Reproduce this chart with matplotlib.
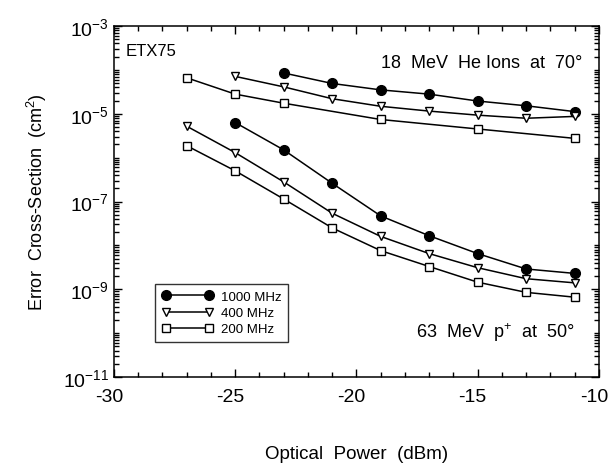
import matplotlib
matplotlib.use("Agg")
import matplotlib.pyplot as plt
from matplotlib.ticker import FixedLocator, LogFormatterSciNotation, MultipleLocator
from matplotlib.transforms import ScaledTranslation
import numpy as np

plt.rcParams['font.family'] = ['Liberation Sans', 'DejaVu Sans']
plt.rcParams['mathtext.fontset'] = 'custom'
plt.rcParams['mathtext.rm'] = 'Liberation Sans'
plt.rcParams['mathtext.it'] = 'Liberation Sans:italic'
plt.rcParams['mathtext.bf'] = 'Liberation Sans:bold'
plt.rcParams['axes.unicode_minus'] = False

# He ions, 18 MeV at 70 deg
he_1000_x = [-23, -21, -19, -17, -15, -13, -11]
he_1000_y = [8.5e-5, 4.9e-5, 3.5e-5, 2.8e-5, 1.95e-5, 1.52e-5, 1.12e-5]
he_400_x = [-25, -23, -21, -19, -17, -15, -13, -11]
he_400_y = [7.1e-5, 4.1e-5, 2.2e-5, 1.48e-5, 1.15e-5, 9.3e-6, 7.9e-6, 8.7e-6]
he_200_x = [-27, -25, -23, -19, -15, -11]
he_200_y = [6.6e-5, 2.8e-5, 1.74e-5, 7.4e-6, 4.5e-6, 2.75e-6]

# Protons, 63 MeV at 50 deg
p_1000_x = [-25, -23, -21, -19, -17, -15, -13, -11]
p_1000_y = [6.3e-6, 1.5e-6, 2.6e-7, 4.7e-8, 1.66e-8, 6.5e-9, 2.9e-9, 2.3e-9]
p_400_x = [-27, -25, -23, -21, -19, -17, -15, -13, -11]
p_400_y = [5.2e-6, 1.3e-6, 2.8e-7, 5.4e-8, 1.6e-8, 6.5e-9, 3.1e-9, 1.74e-9, 1.4e-9]
p_200_x = [-27, -25, -23, -21, -19, -17, -15, -13, -11]
p_200_y = [1.87e-6, 5.0e-7, 1.14e-7, 2.5e-8, 7.6e-9, 3.3e-9, 1.45e-9, 8.5e-10, 6.6e-10]

labels = ['1000 MHz', '400 MHz', '200 MHz']

fig = plt.figure(figsize=(6.08, 4.64), dpi=100)
ax = fig.add_axes([0.1875, 0.1853, 0.7975, 0.7565])

s1 = dict(color='black', marker='o', markersize=7, markerfacecolor='black', lw=1.1)
s2 = dict(color='black', marker='v', markersize=6, markerfacecolor='white', markeredgewidth=1.0, lw=1.1)
s3 = dict(color='black', marker='s', markersize=5.5, markerfacecolor='white', markeredgewidth=1.0, lw=1.1)

h1, = ax.plot(p_1000_x, p_1000_y, label=labels[0], **s1)
h2, = ax.plot(p_400_x, p_400_y, label=labels[1], **s2)
h3, = ax.plot(p_200_x, p_200_y, label=labels[2], **s3)
ax.plot(he_1000_x, he_1000_y, **s1)
ax.plot(he_400_x, he_400_y, **s2)
ax.plot(he_200_x, he_200_y, **s3)

ax.set_yscale('log')
ax.set_xlim(-30, -10)
ax.set_ylim(1e-11, 1e-3)

ax.xaxis.set_major_locator(MultipleLocator(5))
ax.xaxis.set_minor_locator(MultipleLocator(1))
major_y = [10.0**e for e in (-11, -9, -7, -5, -3)]
minor_y = []
for e in range(-11, -3):
    for m in range(1, 10):
        v = m * 10.0**e
        if m == 1 and e % 2 != 0:
            continue
        minor_y.append(v)
ax.yaxis.set_major_locator(FixedLocator(major_y))
ax.yaxis.set_major_formatter(LogFormatterSciNotation())
ax.yaxis.set_minor_locator(FixedLocator(minor_y))
ax.yaxis.set_minor_formatter(plt.NullFormatter())

ax.tick_params(which='both', direction='in', top=True, right=True, labelsize=14, width=1.0)
ax.tick_params(which='major', length=6)
ax.tick_params(which='minor', length=3.5)
ax.tick_params(axis='x', which='major', pad=8)
for sp in ax.spines.values():
    sp.set_linewidth(1.1)

ax.set_xlabel('Optical  Power  (dBm)', fontsize=13.5, labelpad=29)
ax.set_ylabel('Error  Cross-Section  (cm$^2$)', fontsize=13, labelpad=10)

ax.text(0.025, 0.93, 'ETX75', transform=ax.transAxes, fontsize=12, ha='left', va='center')
ax.text(0.965, 0.895, '18  MeV  He Ions  at  70°', transform=ax.transAxes, fontsize=13, ha='right', va='center')
ax.text(0.95, 0.13, '63  MeV  p$^{+}$  at  50°', transform=ax.transAxes, fontsize=13, ha='right', va='center')

leg = ax.legend(handles=[h1, h2, h3], loc='lower left', bbox_to_anchor=(0.085, 0.10),
                borderaxespad=0.0, numpoints=2, fontsize=9.5, frameon=True,
                fancybox=False, edgecolor='black', handlelength=3.9, borderpad=0.5,
                labelspacing=0.3, handletextpad=0.6)
leg.get_frame().set_linewidth(1.0)

# digits centred on the tick, hyphen hanging to the left (as in the reference)
offset = ScaledTranslation(-0.05, 0, fig.dpi_scale_trans)
for lab in ax.xaxis.get_majorticklabels():
    lab.set_transform(lab.get_transform() + offset)

fig.savefig('out.png', dpi=100)
